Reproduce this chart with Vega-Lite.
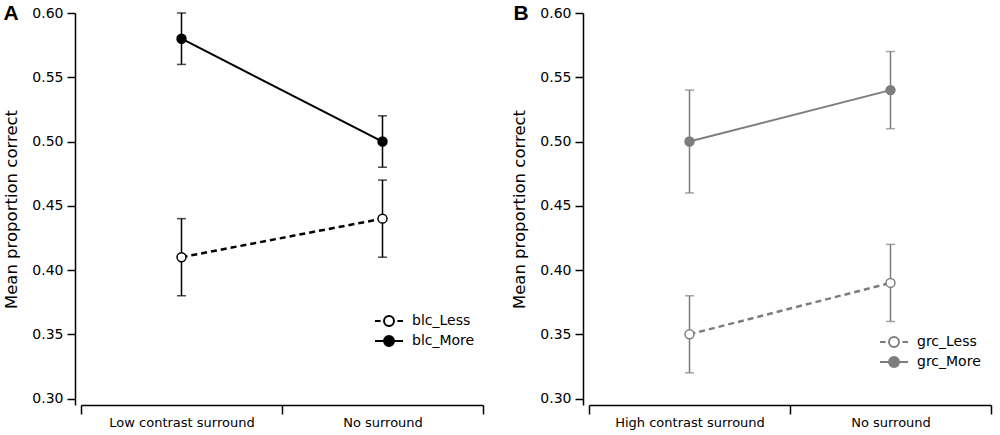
{
  "$schema": "https://vega.github.io/schema/vega-lite/v6.json",
  "padding": {"left": 3, "top": 2, "right": 5, "bottom": 2},
  "datasets": {
    "panelA": [
      {"surround": "Low contrast surround", "group": "blc_Less", "mean": 0.41, "lo": 0.38, "hi": 0.44},
      {"surround": "No surround", "group": "blc_Less", "mean": 0.44, "lo": 0.41, "hi": 0.47},
      {"surround": "Low contrast surround", "group": "blc_More", "mean": 0.58, "lo": 0.56, "hi": 0.60},
      {"surround": "No surround", "group": "blc_More", "mean": 0.50, "lo": 0.48, "hi": 0.52}
    ],
    "panelB": [
      {"surround": "High contrast surround", "group": "grc_Less", "mean": 0.35, "lo": 0.32, "hi": 0.38},
      {"surround": "No surround", "group": "grc_Less", "mean": 0.39, "lo": 0.36, "hi": 0.42},
      {"surround": "High contrast surround", "group": "grc_More", "mean": 0.50, "lo": 0.46, "hi": 0.54},
      {"surround": "No surround", "group": "grc_More", "mean": 0.54, "lo": 0.51, "hi": 0.57}
    ]
  },
  "spacing": 106,
  "bounds": "flush",
  "hconcat": [
    {
      "width": 402, "height": 392,
      "data": {"name": "panelA"},
      "layer": [
        {
          "encoding": {
            "x": {"field": "surround", "type": "nominal", "sort": ["Low contrast surround", "No surround"],
              "scale": {"paddingInner": 0, "paddingOuter": 0},
              "axis": {"title": null, "labelAngle": 0, "tickBand": "extent", "tickSize": 9, "labelPadding": 2, "labelFontSize": 13}}
          },
          "layer": [
            {
              "mark": {"type": "rule", "strokeWidth": 1.5, "color": "black"},
              "encoding": {
                "y": {"field": "lo", "type": "quantitative", "title": "Mean proportion correct",
                  "scale": {"domain": [0.295, 0.6], "nice": false, "zero": false},
                  "axis": {"offset": 6, "tickSize": 8, "labelPadding": 4, "titlePadding": 12, "values": [0.3, 0.35, 0.4, 0.45, 0.5, 0.55, 0.6], "format": ".2f"}},
                "y2": {"field": "hi"}
              }
            },
            {
              "mark": {"type": "tick", "thickness": 1.5, "size": 9, "color": "black"},
              "encoding": {"y": {"field": "lo", "type": "quantitative", "title": "Mean proportion correct"}}
            },
            {
              "mark": {"type": "tick", "thickness": 1.5, "size": 9, "color": "black"},
              "encoding": {"y": {"field": "hi", "type": "quantitative", "title": "Mean proportion correct"}}
            },
            {
              "transform": [{"filter": "datum.group === 'blc_Less'"}],
              "mark": {"type": "line", "strokeWidth": 2.5, "color": "black", "strokeDash": [6, 4]},
              "encoding": {"y": {"field": "mean", "type": "quantitative", "title": "Mean proportion correct"}}
            },
            {
              "transform": [{"filter": "datum.group === 'blc_More'"}],
              "mark": {"type": "line", "strokeWidth": 2, "color": "black"},
              "encoding": {"y": {"field": "mean", "type": "quantitative", "title": "Mean proportion correct"}}
            },
            {
              "mark": {"type": "point", "filled": true, "size": 80, "stroke": "black", "strokeWidth": 1.5, "opacity": 1},
              "encoding": {
                "y": {"field": "mean", "type": "quantitative", "title": "Mean proportion correct"},
                "fill": {"field": "group", "type": "nominal", "scale": {"domain": ["blc_Less", "blc_More"], "range": ["white", "black"]},
                  "legend": {"title": null, "orient": "none", "legendX": 300, "legendY": 300, "direction": "vertical", "labelFontSize": 14, "symbolSize": 196, "symbolStrokeWidth": 2, "labelOffset": 15, "padding": 0}}
              }
            },
            {
              "transform": [{"filter": "false"}],
              "mark": {"type": "point", "filled": true, "size": 80, "stroke": "black", "strokeWidth": 1.5, "opacity": 1},
              "encoding": {
                "y": {"field": "mean", "type": "quantitative", "title": "Mean proportion correct"},
                "shape": {"field": "group", "type": "nominal",
                  "scale": {"domain": ["blc_Less", "blc_More"], "range": ["M-2,0H-1.2M1.2,0H2M0.71,0A0.71,0.71,0,1,1,-0.71,0A0.71,0.71,0,1,1,0.71,0", "M-2,0H-0.71M0.71,0H2M0.71,0A0.71,0.71,0,1,1,-0.71,0A0.71,0.71,0,1,1,0.71,0"]},
                  "legend": {"title": null, "orient": "none", "legendX": 300, "legendY": 300, "direction": "vertical", "labelFontSize": 14, "symbolSize": 196, "symbolStrokeWidth": 2, "labelOffset": 15, "padding": 0}}
              }
            }
          ]
        },
        {
          "mark": {"type": "tick", "opacity": 0},
          "encoding": {
            "x": {"field": "surround", "type": "nominal", "sort": ["Low contrast surround", "No surround"],
              "scale": {"paddingInner": 0, "paddingOuter": 0},
              "axis": {"orient": "top", "domain": false, "ticks": false, "labels": false, "title": "A", "titleAngle": 0, "titleX": -78, "titleY": 0, "titleAlign": "left", "titleBaseline": "middle", "titleFontSize": 21, "titleFontWeight": "bold", "titleFont": "Liberation Sans"}},
            "y": {"field": "mean", "type": "quantitative", "title": "Mean proportion correct"}
          }
        }
      ],
      "resolve": {"scale": {"x": "independent"}}
    },
    {
      "width": 402, "height": 392,
      "data": {"name": "panelB"},
      "layer": [
        {
          "encoding": {
            "x": {"field": "surround", "type": "nominal", "sort": ["High contrast surround", "No surround"],
              "scale": {"paddingInner": 0, "paddingOuter": 0},
              "axis": {"title": null, "labelAngle": 0, "tickBand": "extent", "tickSize": 9, "labelPadding": 2, "labelFontSize": 13}}
          },
          "layer": [
            {
              "mark": {"type": "rule", "strokeWidth": 1.5, "color": "#7d7d7d"},
              "encoding": {
                "y": {"field": "lo", "type": "quantitative", "title": "Mean proportion correct",
                  "scale": {"domain": [0.295, 0.6], "nice": false, "zero": false},
                  "axis": {"offset": 6, "tickSize": 8, "labelPadding": 4, "titlePadding": 12, "values": [0.3, 0.35, 0.4, 0.45, 0.5, 0.55, 0.6], "format": ".2f"}},
                "y2": {"field": "hi"}
              }
            },
            {
              "mark": {"type": "tick", "thickness": 1.5, "size": 9, "color": "#7d7d7d"},
              "encoding": {"y": {"field": "lo", "type": "quantitative", "title": "Mean proportion correct"}}
            },
            {
              "mark": {"type": "tick", "thickness": 1.5, "size": 9, "color": "#7d7d7d"},
              "encoding": {"y": {"field": "hi", "type": "quantitative", "title": "Mean proportion correct"}}
            },
            {
              "transform": [{"filter": "datum.group === 'grc_Less'"}],
              "mark": {"type": "line", "strokeWidth": 2.5, "color": "#7d7d7d", "strokeDash": [6, 4]},
              "encoding": {"y": {"field": "mean", "type": "quantitative", "title": "Mean proportion correct"}}
            },
            {
              "transform": [{"filter": "datum.group === 'grc_More'"}],
              "mark": {"type": "line", "strokeWidth": 2, "color": "#7d7d7d"},
              "encoding": {"y": {"field": "mean", "type": "quantitative", "title": "Mean proportion correct"}}
            },
            {
              "mark": {"type": "point", "filled": true, "size": 80, "stroke": "#7d7d7d", "strokeWidth": 1.5, "opacity": 1},
              "encoding": {
                "y": {"field": "mean", "type": "quantitative", "title": "Mean proportion correct"},
                "fill": {"field": "group", "type": "nominal", "scale": {"domain": ["grc_Less", "grc_More"], "range": ["white", "#7d7d7d"]},
                  "legend": {"title": null, "orient": "none", "legendX": 297, "legendY": 321, "direction": "vertical", "labelFontSize": 14, "symbolSize": 196, "symbolStrokeWidth": 2, "labelOffset": 15, "padding": 0}}
              }
            },
            {
              "transform": [{"filter": "false"}],
              "mark": {"type": "point", "filled": true, "size": 80, "stroke": "#7d7d7d", "strokeWidth": 1.5, "opacity": 1},
              "encoding": {
                "y": {"field": "mean", "type": "quantitative", "title": "Mean proportion correct"},
                "shape": {"field": "group", "type": "nominal",
                  "scale": {"domain": ["grc_Less", "grc_More"], "range": ["M-2,0H-1.2M1.2,0H2M0.71,0A0.71,0.71,0,1,1,-0.71,0A0.71,0.71,0,1,1,0.71,0", "M-2,0H-0.71M0.71,0H2M0.71,0A0.71,0.71,0,1,1,-0.71,0A0.71,0.71,0,1,1,0.71,0"]},
                  "legend": {"title": null, "orient": "none", "legendX": 297, "legendY": 321, "direction": "vertical", "labelFontSize": 14, "symbolSize": 196, "symbolStrokeWidth": 2, "labelOffset": 15, "padding": 0}}
              }
            }
          ]
        },
        {
          "mark": {"type": "tick", "opacity": 0},
          "encoding": {
            "x": {"field": "surround", "type": "nominal", "sort": ["High contrast surround", "No surround"],
              "scale": {"paddingInner": 0, "paddingOuter": 0},
              "axis": {"orient": "top", "domain": false, "ticks": false, "labels": false, "title": "B", "titleAngle": 0, "titleX": -76, "titleY": 0, "titleAlign": "left", "titleBaseline": "middle", "titleFontSize": 21, "titleFontWeight": "bold", "titleFont": "Liberation Sans"}},
            "y": {"field": "mean", "type": "quantitative", "title": "Mean proportion correct"}
          }
        }
      ],
      "resolve": {"scale": {"x": "independent"}}
    }
  ],
  "resolve": {
    "scale": {"fill": "independent", "shape": "independent", "y": "independent", "x": "independent"},
    "legend": {"fill": "independent", "shape": "independent"}
  },
  "config": {
    "view": {"stroke": null},
    "font": "DejaVu Sans",
    "axis": {"domainColor": "black", "tickColor": "black", "labelColor": "black", "titleColor": "black", "domainWidth": 1.5, "tickWidth": 1.5, "grid": false, "labelFontSize": 14, "titleFontSize": 16.5, "titleFontWeight": "normal"},
    "legend": {"labelColor": "black"}
  }
}
